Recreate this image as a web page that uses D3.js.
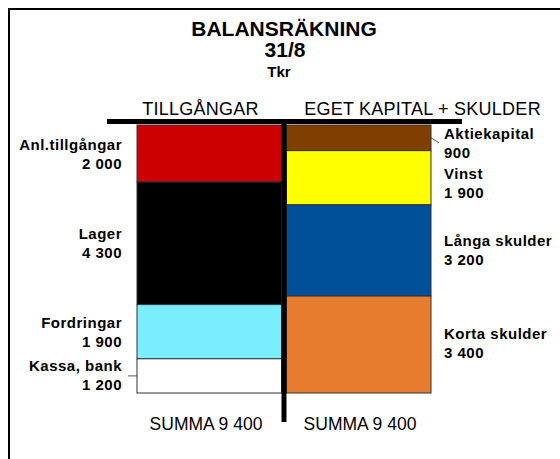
<!DOCTYPE html>
<html>
<head>
<meta charset="utf-8">
<script src="https://cdn.jsdelivr.net/npm/d3@7"></script>
<style>
  html, body { margin: 0; padding: 0; background: #fff; }
  svg { display: block; }
  text { font-family: "Liberation Sans", Arial, sans-serif; fill: #000; }
</style>
</head>
<body>
<svg id="chart" width="560" height="459"></svg>
<script>
// ---- data ----
const columns = ["TILLGÅNGAR", "EGET KAPITAL + SKULDER"];
const assetNames = ["Anl.tillgångar", "Lager", "Fordringar", "Kassa, bank"];
const assetValues = [2000, 4300, 1900, 1200];
const assetColors = ["#cc0000", "#000000", "#7aeefc", "#ffffff"];
const claimNames = ["Aktiekapital", "Vinst", "Långa skulder", "Korta skulder"];
const claimValues = [900, 1900, 3200, 3400];
const claimColors = ["#7f3f00", "#ffff00", "#004f99", "#e77b2e"];
const totalLabels = ["SUMMA 9 400", "SUMMA 9 400"];
const titleLines = ["BALANSRÄKNING", "31/8", "Tkr"];

const fmt = v => d3.format(",")(v).replace(/,/g, " ");

const svg = d3.select("#chart");

// frame
svg.append("line").attr("x1", 8).attr("x2", 560).attr("y1", 9).attr("y2", 9)
  .attr("stroke", "#000").attr("stroke-width", 2);
svg.append("line").attr("x1", 9).attr("x2", 9).attr("y1", 8).attr("y2", 459)
  .attr("stroke", "#000").attr("stroke-width", 2);

// titles
const titleSpec = [
  {x: 284, y: 36, size: 21},
  {x: 285, y: 57, size: 21},
  {x: 279, y: 77, size: 15}
];
titleLines.forEach((t, i) => {
  svg.append("text").attr("x", titleSpec[i].x).attr("y", titleSpec[i].y)
    .attr("text-anchor", "middle").attr("font-weight", "bold")
    .attr("font-size", titleSpec[i].size).text(t);
});

// scales
const total = d3.sum(assetValues);
const y = d3.scaleLinear().domain([0, total]).range([125, 393]);
const x = d3.scaleBand().domain(columns).range([137, 431]).paddingInner(0.0334);

function stackOf(names, values, colors) {
  let acc = 0;
  return names.map((n, i) => {
    const d = {name: n, value: values[i], color: colors[i], y0: acc, y1: acc + values[i]};
    acc += values[i];
    return d;
  });
}
const assets = stackOf(assetNames, assetValues, assetColors);
const claims = stackOf(claimNames, claimValues, claimColors);

// column headers
const headerX = [200.5, 422.5];
columns.forEach((c, i) => {
  svg.append("text").attr("x", headerX[i]).attr("y", 115)
    .attr("text-anchor", "middle").attr("font-size", 18)
    .attr("letter-spacing", 0.25).text(c);
});

// bars
[[assets, columns[0]], [claims, columns[1]]].forEach(([data, col]) => {
  svg.append("g").selectAll("rect").data(data).join("rect")
    .attr("x", x(col))
    .attr("y", d => y(d.y0))
    .attr("width", x.bandwidth())
    .attr("height", d => y(d.y1) - y(d.y0))
    .attr("fill", d => d.color)
    .attr("stroke", "#333")
    .attr("stroke-width", 1);
});

// T-account lines
const sepX = x(columns[0]) + x.bandwidth() + x.step() * x.paddingInner() / 2;
svg.append("rect").attr("x", 107).attr("y", 119).attr("width", 462 - 107).attr("height", 5).attr("fill", "#000");
svg.append("rect").attr("x", sepX - 2.5).attr("y", 119).attr("width", 5).attr("height", 422 - 119).attr("fill", "#000");

// labels
const lineGap = 19;
const nudge = {"Aktiekapital": 5, "Vinst": 5, "Kassa, bank": -1, "Korta skulder": -2};
function labels(data, side) {
  const g = svg.append("g");
  data.forEach(d => {
    const cy = y((d.y0 + d.y1) / 2) + (nudge[d.name] || 0);
    const lx = side === "left" ? x(columns[0]) - 15 : x(columns[1]) + x.bandwidth() + 13;
    const anchor = side === "left" ? "end" : "start";
    const t = g.append("text").attr("x", lx).attr("text-anchor", anchor)
      .attr("font-weight", "bold").attr("font-size", 15).attr("letter-spacing", 0.5);
    t.append("tspan").attr("x", lx).attr("y", cy - lineGap / 2 + 5.5).text(d.name);
    t.append("tspan").attr("x", lx).attr("y", cy + lineGap / 2 + 5.5).text(fmt(d.value));
  });
}
labels(assets, "left");
labels(claims, "right");

// leader lines
const kassa = assets[3];
const ky = y((kassa.y0 + kassa.y1) / 2);
svg.append("line").attr("x1", x(columns[0]) - 9).attr("x2", x(columns[0]))
  .attr("y1", ky).attr("y2", ky).attr("stroke", "#555").attr("stroke-width", 1);
const akt = claims[0];
const ay = y((akt.y0 + akt.y1) / 2);
svg.append("line").attr("x1", x(columns[1]) + x.bandwidth()).attr("x2", x(columns[1]) + x.bandwidth() + 8)
  .attr("y1", ay).attr("y2", ay + 5).attr("stroke", "#555").attr("stroke-width", 1);

// totals
const totalX = [206, 360];
totalLabels.forEach((t, i) => {
  svg.append("text").attr("x", totalX[i]).attr("y", 430)
    .attr("text-anchor", "middle").attr("font-size", 17.5).text(t);
});
</script>
</body>
</html>
